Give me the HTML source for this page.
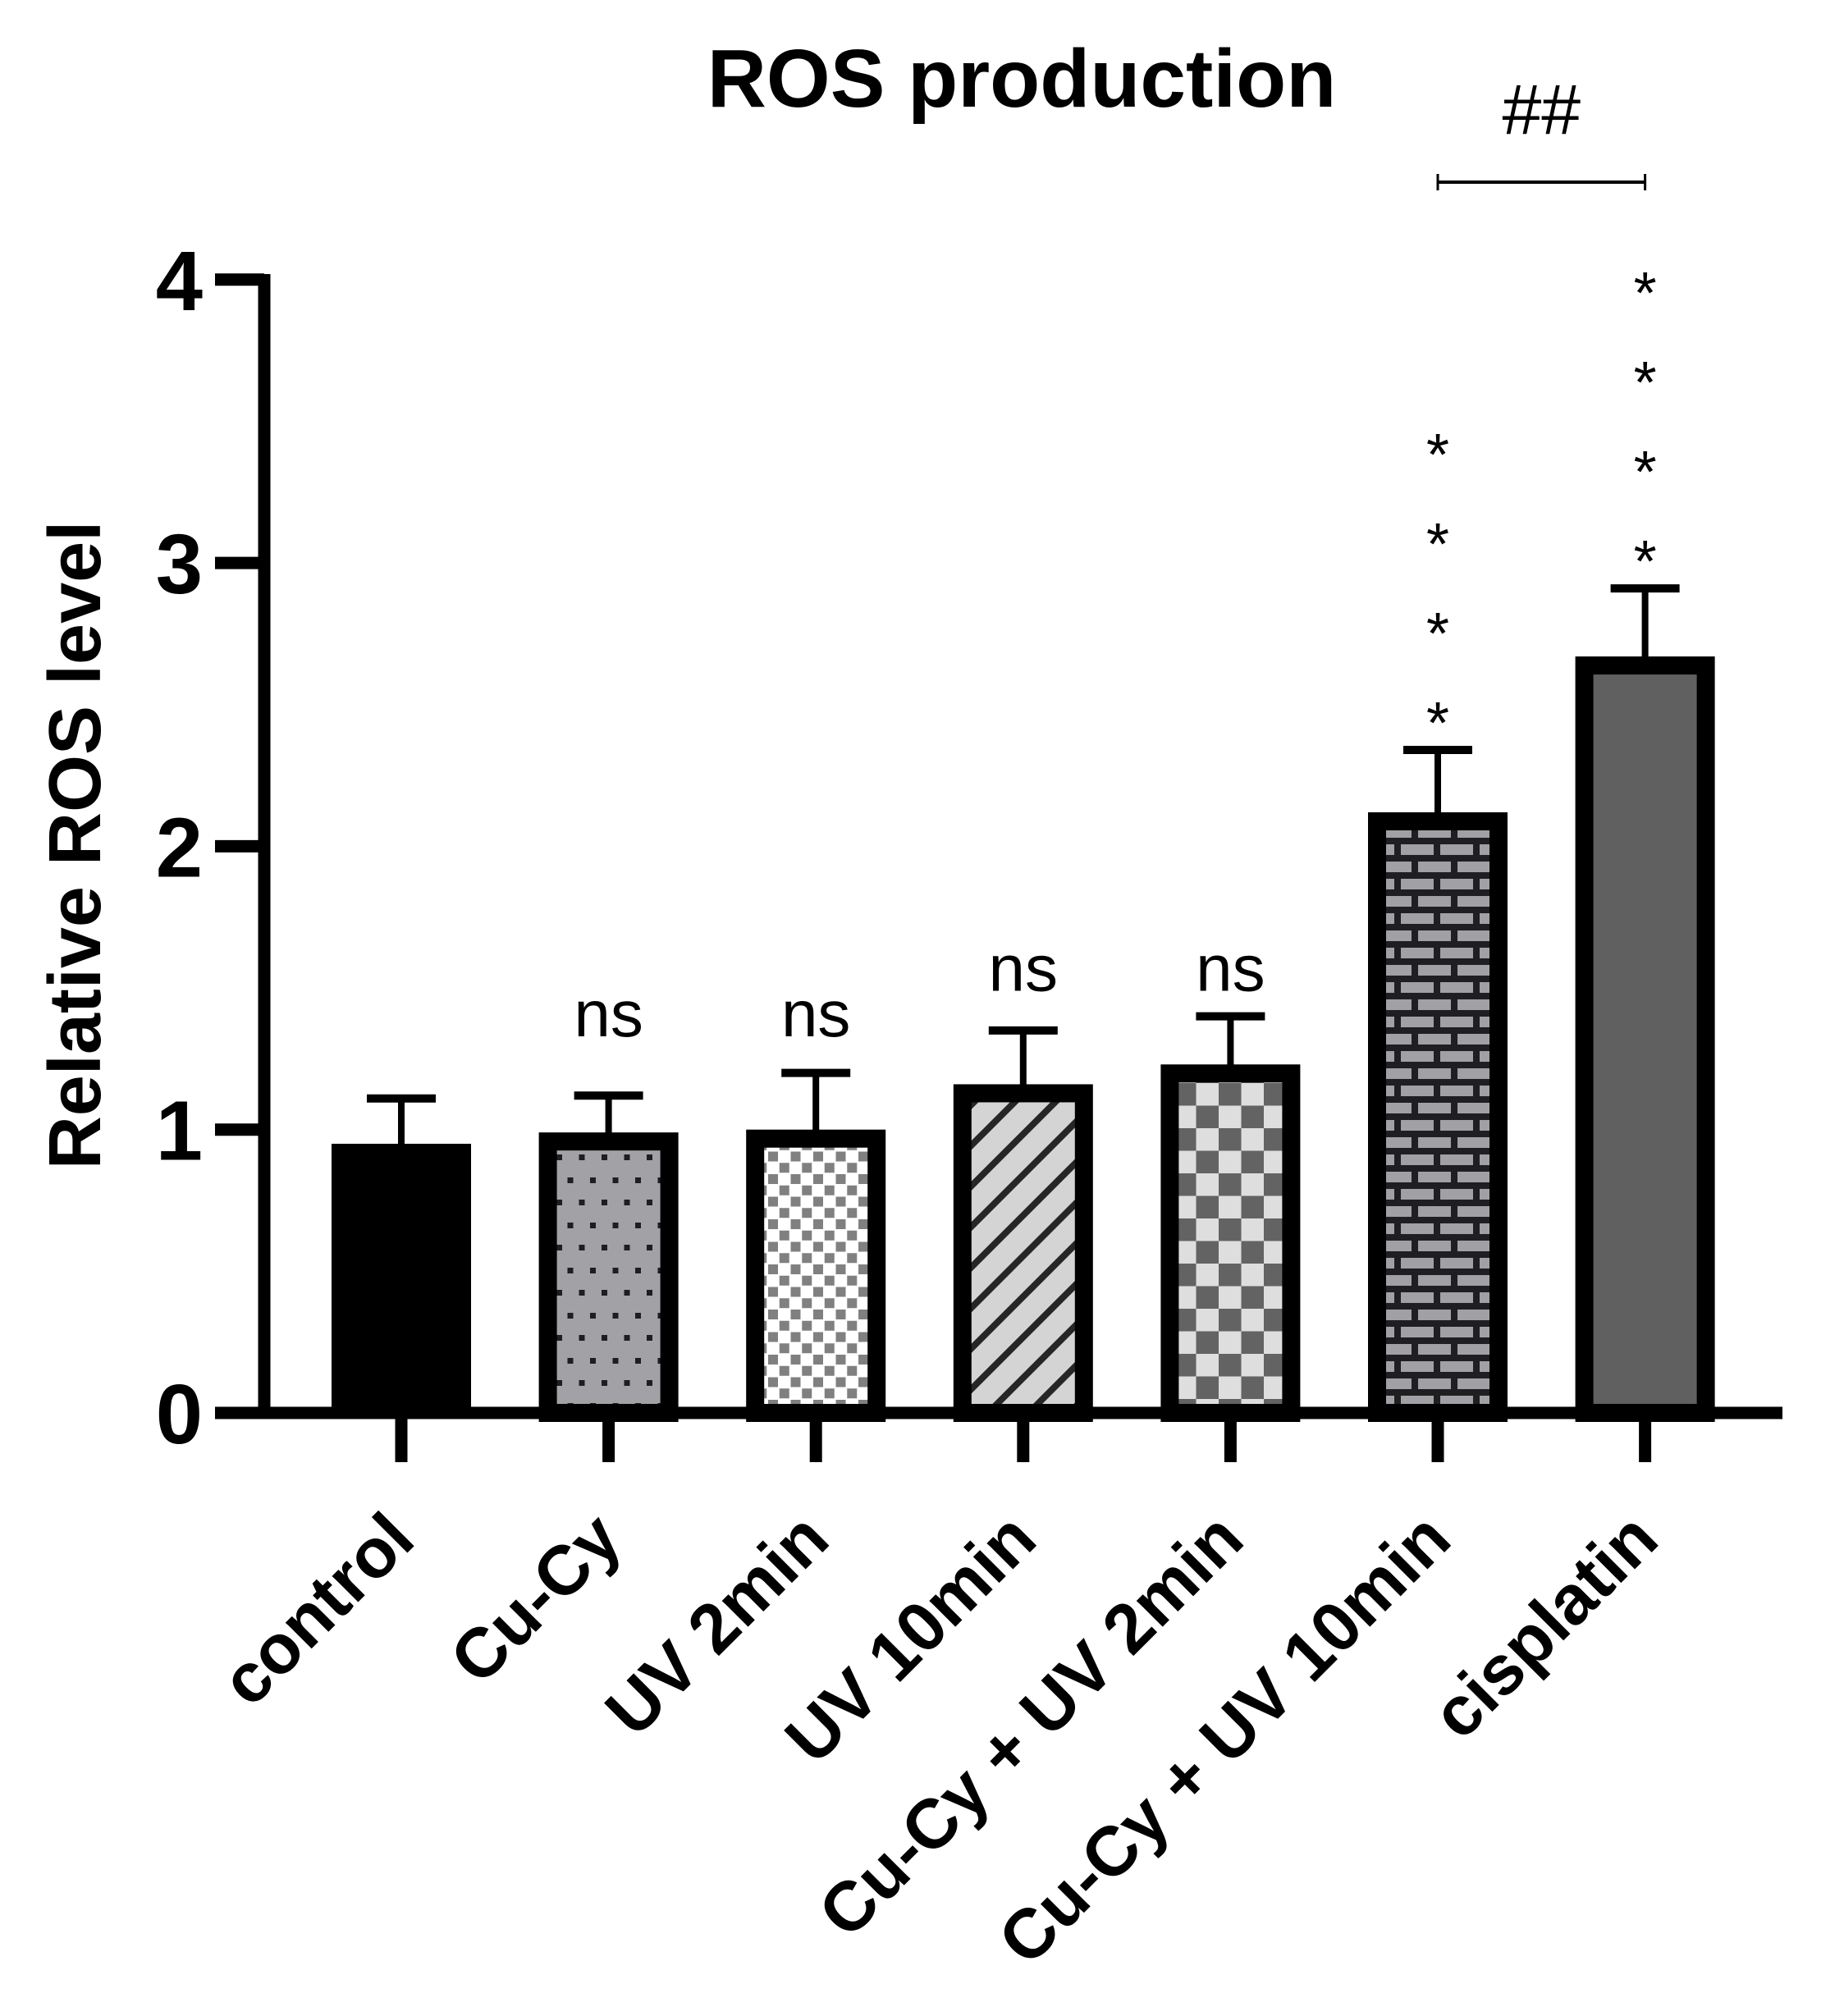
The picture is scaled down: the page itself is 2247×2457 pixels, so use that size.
<!DOCTYPE html>
<html><head><meta charset="utf-8"><style>
html,body{margin:0;padding:0;background:#fff;}
svg{display:block;font-family:"Liberation Sans",Arial,sans-serif;}
</style></head><body>
<svg id="chart" width="2247" height="2457" viewBox="0 0 2247 2457" xmlns="http://www.w3.org/2000/svg">
<defs>
<pattern id="p-dots" patternUnits="userSpaceOnUse" width="27.5" height="55" x="0" y="0">
<rect width="27.5" height="55" fill="#a2a1a6"/>
<rect x="4" y="5" width="7" height="7" fill="#1e1e22"/>
<rect x="18" y="32" width="7" height="7" fill="#1e1e22"/>
</pattern>
<pattern id="p-fine" patternUnits="userSpaceOnUse" width="27.5" height="27.5">
<rect width="27.5" height="27.5" fill="#ffffff"/>
<rect x="1" y="1" width="12" height="12" fill="#808080"/>
<rect x="14.75" y="14.75" width="12" height="12" fill="#808080"/>
</pattern>
<pattern id="p-stripe" patternUnits="userSpaceOnUse" width="35" height="35" patternTransform="rotate(-45)">
<rect width="35" height="35" fill="#d4d4d4"/>
<rect x="0" y="0" width="35" height="8" fill="#262626"/>
</pattern>
<pattern id="p-check" patternUnits="userSpaceOnUse" width="55" height="55">
<rect width="55" height="55" fill="#dedede"/>
<rect x="0" y="0" width="27.5" height="27.5" fill="#636363"/>
<rect x="27.5" y="27.5" width="27.5" height="27.5" fill="#636363"/>
</pattern>
<pattern id="p-brick" patternUnits="userSpaceOnUse" width="48" height="42">
<rect width="48" height="42" fill="#1f1f22"/>
<rect x="0" y="0" width="40" height="13" fill="#a1a0a5"/>
<rect x="-21" y="21" width="40" height="13" fill="#a1a0a5"/>
<rect x="27" y="21" width="40" height="13" fill="#a1a0a5"/>
</pattern>
</defs>
<g id="plot"></g>
</svg>
<script>
const categories = ["control","Cu-Cy","UV 2min","UV 10min","Cu-Cy + UV 2min","Cu-Cy + UV 10min","cisplatin"];
const means = [0.95, 0.99, 1.00, 1.16, 1.23, 2.12, 2.67];
const errTops = [1.11, 1.12, 1.20, 1.35, 1.40, 2.34, 2.91];
const sigLabels = ["", "ns", "ns", "ns", "ns", "****", "****"];
const nsLevels = [0, 1.33, 1.33, 1.49, 1.49, 0, 0];
const yTicks = [0, 1, 2, 3, 4];
const fills = ["#000000","url(#p-dots)","url(#p-fine)","url(#p-stripe)","url(#p-check)","url(#p-brick)","#606060"];

const NS = "http://www.w3.org/2000/svg";
const g = document.getElementById("plot");
const X0 = 322, Y0 = 1722, UNIT = 345.3, STEP = 252.6, FIRST = 489;
const yS = v => Y0 - v * UNIT;
const xS = i => FIRST + i * STEP;
function mk(tag, attrs, parent){ const e = document.createElementNS(NS, tag); for (const k in attrs) e.setAttribute(k, attrs[k]); (parent||g).appendChild(e); return e; }

// title
let t = mk("text", {x:1245, y:130, "font-size":100, "font-weight":"bold", "text-anchor":"middle"});
t.textContent = "ROS production";



// y axis title
t = mk("text", {x:0, y:0, "font-size":90, "font-weight":"bold", "text-anchor":"middle", transform:"translate(122,1030) rotate(-90)"});
t.textContent = "Relative ROS level";



// bars
categories.forEach((c, i) => {
  const cx = xS(i), w = 170, top = yS(means[i]);
  const eb = mk("g", {});
  
  
  mk("line", {x1:cx, x2:cx, y1:yS(errTops[i]), y2:top+5, stroke:"#000", "stroke-width":8}, eb);
  mk("line", {x1:cx-42, x2:cx+42, y1:yS(errTops[i]), y2:yS(errTops[i]), stroke:"#000", "stroke-width":10}, eb);
  let r;
  if (i === 0) {
    r = mk("rect", {x:cx-w/2, y:top, width:w, height:Y0-top, fill:"#000"});
  } else {
    r = mk("rect", {x:cx-w/2+11, y:top+11, width:w-22, height:Y0-top-11, fill:fills[i], stroke:"#000", "stroke-width":22});
  }
  
  
  const s = sigLabels[i];
  if (s === "ns") {
    const st = mk("text", {x:cx, y:yS(nsLevels[i]), "font-size":80, "text-anchor":"middle"});
    st.textContent = s;
    
    
  } else if (s) {
    const sg = mk("g", {});
    
    
    for (let k = 0; k < s.length; k++) {
      const st = mk("text", {x:cx, y:yS(errTops[i]) - 8 - k*109, "font-size":72, "text-anchor":"middle"}, sg);
      st.textContent = "*";
    }
  }
  const tk = mk("line", {x1:cx, x2:cx, y1:Y0, y2:1782, stroke:"#000", "stroke-width":15});
  
  
  const lx = cx + 20, ly = 1880;
  const xl = mk("text", {x:lx, y:ly, "font-size":85, "font-weight":"bold", "text-anchor":"end", transform:`rotate(-45 ${lx} ${ly})`});
  xl.textContent = c;
  
  
});

// axes
let ax = mk("line", {x1:X0, x2:X0, y1:334, y2:Y0+7, stroke:"#000", "stroke-width":15});


ax = mk("line", {x1:262, x2:2172, y1:Y0, y2:Y0, stroke:"#000", "stroke-width":15});


yTicks.forEach(v => {
  const l = mk("line", {x1:262, x2:X0, y1:yS(v), y2:yS(v), stroke:"#000", "stroke-width":15});
  
  
  const tl = mk("text", {x:247, y:yS(v)+37, "font-size":103, "font-weight":"bold", "text-anchor":"end"});
  tl.textContent = v;
  
  
});

// comparison bracket
const bx1 = xS(5), bx2 = xS(6), by = 222;
const br = mk("g", {});


mk("line", {x1:bx1, x2:bx2, y1:by, y2:by, stroke:"#000", "stroke-width":4}, br);
mk("line", {x1:bx1, x2:bx1, y1:by-10, y2:by+10, stroke:"#000", "stroke-width":3}, br);
mk("line", {x1:bx2, x2:bx2, y1:by-10, y2:by+10, stroke:"#000", "stroke-width":3}, br);
const hh = mk("text", {x:(bx1+bx2)/2, y:163, "font-size":86, "text-anchor":"middle"});
hh.textContent = "##";


</script>
</body></html>
